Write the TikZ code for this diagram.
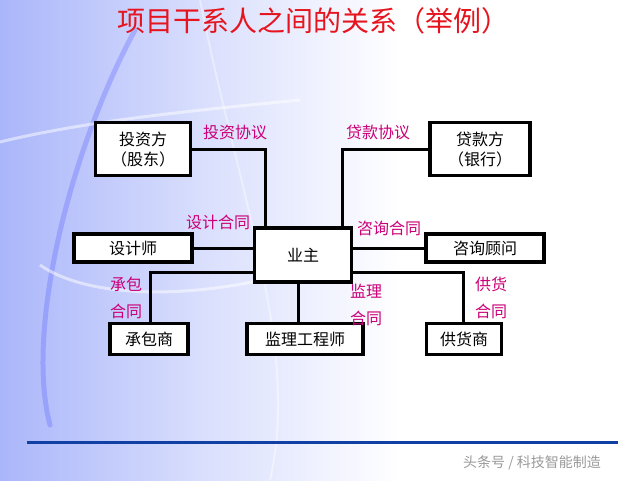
\documentclass[tikz,border=0pt]{standalone}
\usepackage{fontspec}
\setmainfont{Noto Sans CJK SC}
\usetikzlibrary{calc}
\definecolor{labelpink}{RGB}{204,0,120}
\definecolor{titlered}{RGB}{230,20,30}
\definecolor{bgblue}{RGB}{170,182,250}
\definecolor{linkblue}{RGB}{16,64,164}
\tikzset{
  party/.style={draw=black,line width=3.5pt,fill=white,inner sep=0pt,font=\fontsize{16}{20}\selectfont,align=center},
  link/.style={line width=3pt},
  deal/.style={text=labelpink,font=\fontsize{16}{27}\selectfont,align=left,inner sep=0pt}
}
\begin{document}
\begin{tikzpicture}[x=1pt,y=-1pt]
		% background
		\useasboundingbox (0,0) rectangle (640,480);
		\fill[white] (0,0) rectangle (640,480);
		\shade[left color=bgblue,right color=white,middle color=bgblue!45!white] (0,0) rectangle (400,480);
		\draw[bgblue!60!blue,line width=5pt,opacity=0.35,line cap=round] (135,30) .. controls (70,150) and (25,330) .. (50,425);
		\draw[white,line width=3pt,opacity=0.5] (0,142) .. controls (90,120) and (200,110) .. (300,100);
		\draw[white,line width=3pt,opacity=0.5] (40,265) .. controls (90,300) and (200,300) .. (300,270);
		\draw[white,line width=2pt,opacity=0.4] (200,0) .. controls (240,200) and (300,350) .. (270,480);
		% title
		\node[text=titlered,font=\fontsize{28}{30}\selectfont] (title) at (313,21) {项目干系人之间的关系（举例）};
		% parties
		\node[party,minimum width=95pt,minimum height=53pt] (investor) at (143,149) {投资方\\（股东）};
		\node[party,minimum width=100pt,minimum height=53pt] (bank) at (480,149) {贷款方\\（银行）};
		\node[party,minimum width=118pt,minimum height=28pt] (designer) at (133,248) {设计师};
		\node[party,minimum width=97pt,minimum height=54pt] (owner) at (303,255) {业主};
		\node[party,minimum width=118pt,minimum height=28pt] (consultant) at (485,248) {咨询顾问};
		\node[party,minimum width=78pt,minimum height=31pt] (contractor) at (149,339) {承包商};
		\node[party,minimum width=116pt,minimum height=31pt] (supervisor) at (305,339) {监理工程师};
		\node[party,minimum width=75pt,minimum height=31pt] (supplier) at (464,339) {供货商};
		% corners of the links
		\coordinate (invC) at (265,149);
		\coordinate (bankC) at (342,149);
		\coordinate (conC) at (150,272);
		\coordinate (supC) at (298,300);
		\coordinate (splC) at (463,272);
		% links
		\draw[link] (investor.east) -- (invC) -- (invC |- owner.north);
		\draw[link] (bank.west) -- (bankC) -- (bankC |- owner.north);
		\draw[link] (designer.east) -- (designer.east -| owner.west);
		\draw[link] (consultant.west) -- (consultant.west -| owner.east);
		\draw[link] (conC -| owner.west) -- (conC) -- (conC |- contractor.north);
		\draw[link] (supC |- owner.south) -- (supC |- supervisor.north);
		\draw[link] (splC -| owner.east) -- (splC) -- (splC |- supplier.north);
		% agreements
		\node[deal] (invD) at (235,132) {投资协议};
		\node[deal] (bankD) at (378,132) {贷款协议};
		\node[deal] (desD) at (218,222) {设计合同};
		\node[deal] (conD) at (389,228) {咨询合同};
		\node[deal] (ctrD) at (126,298) {承包\\合同};
		\node[deal] (supD) at (366,305) {监理\\合同};
		\node[deal] (splD) at (491,298) {供货\\合同};
		% footer
		\draw[linkblue,line width=3pt] (27,442) -- (618,442);
		\node[text=black!40,font=\fontsize{14}{16}\selectfont] (mark) at (532,463) {头条号 / 科技智能制造};
	\end{tikzpicture}
\end{document}
